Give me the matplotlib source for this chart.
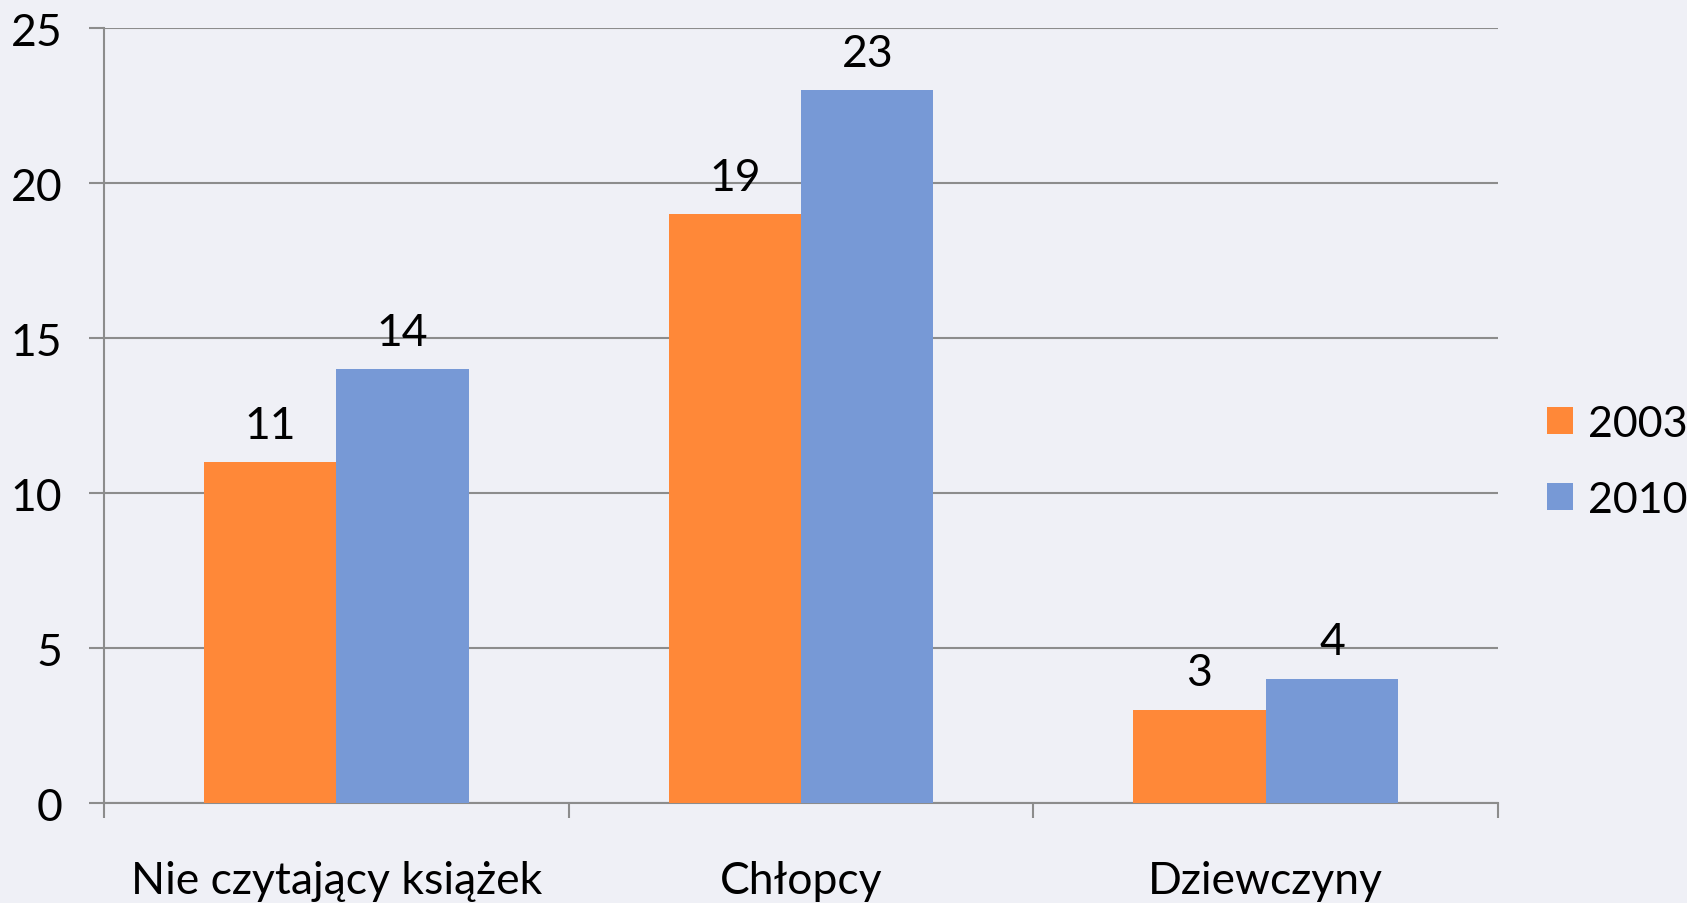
import matplotlib.pyplot as plt
import numpy as np

plt.rcParams['font.family'] = ['Lato', 'DejaVu Sans']

kategorie = ["Nie czytający książek", "Chłopcy", "Dziewczyny"]
rok_2003 = [11, 19, 3]
rok_2010 = [14, 23, 4]
lata = ["2003", "2010"]
yticks = [0, 5, 10, 15, 20, 25]

tlo = '#EFF0F6'
szary = '#8C8C8C'
kolory = ['#FF8838', '#7799D6']

fig = plt.figure(figsize=(16.87, 9.04), dpi=100, facecolor=tlo)
ax = fig.add_axes([0.0617, 0.1106, 0.8263, 0.8568], facecolor=tlo)

x = np.arange(len(kategorie))
w = 0.285
b1 = ax.bar(x - w / 2, rok_2003, w, color=kolory[0], label=lata[0], zorder=3)
b2 = ax.bar(x + w / 2, rok_2010, w, color=kolory[1], label=lata[1], zorder=3)

for bars in (b1, b2):
    for r in bars:
        ax.annotate(str(int(r.get_height())), (r.get_x() + r.get_width() / 2, r.get_height()),
                    xytext=(0, 12), textcoords='offset points', ha='center', va='bottom',
                    fontsize=32, zorder=4)

ax.set_xlim(-0.5, len(kategorie) - 0.5)
ax.set_ylim(0, 25)
ax.set_yticks(yticks)
ax.yaxis.grid(True, color=szary, linewidth=1.5, zorder=1)
ax.set_axisbelow(True)

ax.set_xticks(np.arange(len(kategorie) + 1) - 0.5)
ax.set_xticklabels([])
ax.set_xticks(x, minor=True)
ax.set_xticklabels(kategorie, minor=True, fontsize=32)
ax.tick_params(axis='x', which='major', length=11, width=1.5, color=szary, direction='out')
ax.tick_params(axis='x', which='minor', length=0, pad=41)
ax.tick_params(axis='y', length=11, width=1.5, color=szary, labelsize=32, pad=19)

for s in ['top', 'right']:
    ax.spines[s].set_visible(False)
ax.spines['left'].set_color(szary)
ax.spines['left'].set_linewidth(1.5)
ax.spines['bottom'].set_color(szary)
ax.spines['bottom'].set_linewidth(1.5)

fig.legend(handles=[b1, b2], labels=lata, loc='center left',
           bbox_to_anchor=(1547 / 1687, 0.488), bbox_transform=fig.transFigure,
           frameon=False, fontsize=31, borderpad=0, borderaxespad=0,
           handlelength=0.6, handleheight=0.6, handletextpad=0.35, labelspacing=0.88)

fig.savefig('out.png', dpi=100, facecolor=tlo)
